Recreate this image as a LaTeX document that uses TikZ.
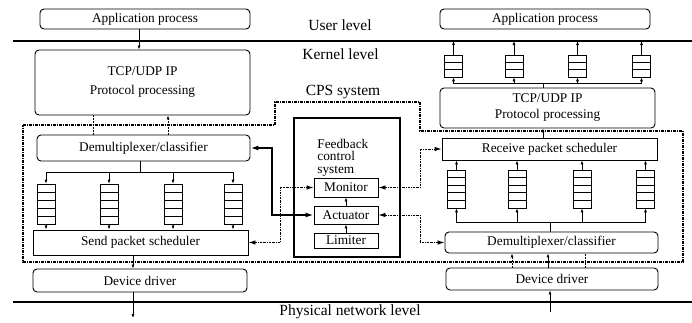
\documentclass[tikz,border=0pt]{standalone}
\usepackage{fontspec}
\setmainfont{Liberation Serif}
\usepackage{tikz}
\usetikzlibrary{arrows.meta,calc}
\tikzstyle{rbox}=[rectangle, draw, rounded corners=4pt, inner sep=0pt, line width=0.9pt]
\tikzstyle{sbox}=[rectangle, draw, inner sep=0pt, line width=0.9pt]
\tikzstyle{fbox}=[rectangle, draw, line width=2pt]
\tikzstyle{level}=[font=\fontsize{15.5}{18}\selectfont]
\tikzstyle{dline}=[dash pattern=on 2pt off 1pt, line width=0.7pt]
\tikzstyle{ctrl}=[dash pattern=on 2pt off 1pt on 0.6pt off 1pt, line width=0.9pt, >={Latex[length=7pt,width=4.5pt]}]
\tikzstyle{link}=[line width=1.5pt, >={Latex[length=8pt,width=5pt]}]
\tikzstyle{cps}=[dash pattern=on 3pt off 1pt on 1pt off 1pt, line width=1.2pt]
\tikzset{queue/.style={rectangle, draw, line width=0.7pt, minimum width=18pt, inner sep=0pt,
    path picture={\foreach \k [evaluate=\k as \fr using \k/(#1+1)] in {1,...,#1}
        \draw[line width=0.7pt] ($(path picture bounding box.north west)!\fr!(path picture bounding box.south west)$)
            -- ($(path picture bounding box.north east)!\fr!(path picture bounding box.south east)$);}}}

\begin{document}
\begin{tikzpicture}[x=1pt, y=-1pt, line width=0.7pt, >={Latex[length=4pt,width=3pt]},
        font=\fontsize{13.3}{15}\selectfont]
                \useasboundingbox (0,0) rectangle (692,322);
                % level lines
                \coordinate (uW) at (13,41);
                \coordinate (uE) at (692,41);
                \coordinate (pW) at (13,302);
                \coordinate (pE) at (692,302);
                \draw[line width=1.2pt] (uW) -- (uE);
                \draw[line width=1.2pt] (pW) -- (pE);
                \node[level] (ul) at (340,25) {User level};
                \node[level] (kl) at (340.5,54) {Kernel level};
                \node[level] (cl) at (343,92) {CPS system};
                \node[level] (pl) at (350,312) {Physical network level};
                % CPS boundary
                \draw[cps] (23,125) -- (275,125) -- (275,102) -- (420,102) -- (420,131)
                    -- (683,131) -- (683,262) -- (23,262) -- cycle;
                % send side
                \node[rbox, minimum width=210pt, minimum height=20pt] (appL) at (145,19) {Application process};
                \node[rbox, minimum width=215pt, minimum height=65pt, align=center] (tcpL) at (142.5,82.5) {TCP/UDP IP\\[4pt]Protocol processing};
                \node[rbox, minimum width=213pt, minimum height=26pt] (demuxL) at (143.5,148) {Demultiplexer/classifier};
                \node[queue=4, minimum height=40pt] (qL1) at (46,204) {};
                \node[queue=4, minimum height=40pt] (qL2) at (109,204) {};
                \node[queue=4, minimum height=40pt] (qL3) at (173,204) {};
                \node[queue=4, minimum height=40pt] (qL4) at (233,204) {};
                \node[sbox, minimum width=215pt, minimum height=25pt] (sendL) at (140.5,242.5) {Send packet scheduler};
                \node[rbox, minimum width=214pt, minimum height=23pt] (devL) at (140,280.5) {Device driver};
                \coordinate (busL) at (140,172);
                \coordinate (outL) at (133,318);
                \draw[->] (appL.south -| 139,0) -- (tcpL.north -| 139,0);
                \draw[dline] (tcpL.south -| 93,0) -- (demuxL.north -| 93,0);
                \draw[dline, ->] (demuxL.north -| 168,0) -- (tcpL.south -| 168,0);
                \draw[->] (demuxL.south -| busL) -- (busL) -| (qL1.north);
                \draw[->] (busL) -| (qL4.north);
                \draw[->] (qL2.north |- busL) -- (qL2.north);
                \draw[->] (qL3.north |- busL) -- (qL3.north);
                \draw[->] (qL1.south) -- (qL1.south |- sendL.north);
                \draw[->] (qL2.south) -- (qL2.south |- sendL.north);
                \draw[->] (qL3.south) -- (qL3.south |- sendL.north);
                \draw[->] (qL4.south) -- (qL4.south |- sendL.north);
                \draw[->] (sendL.south -| outL) -- (devL.north -| outL);
                \draw[->] (devL.south -| outL) -- (outL);
                % feedback control system
                \node[fbox, minimum width=106pt, minimum height=139pt] (fcs) at (347,187.5) {};
                \node[anchor=north west, align=left, inner sep=0pt, font=\fontsize{13.3}{12.3}\selectfont] (fcsl) at (317,139) {Feedback\\control\\system};
                \node[sbox, minimum width=64pt, minimum height=19pt] (mon) at (346,187.5) {Monitor};
                \node[sbox, minimum width=64pt, minimum height=18pt] (act) at (346,215) {Actuator};
                \node[sbox, minimum width=64pt, minimum height=15pt] (lim) at (346,240.5) {Limiter};
                \draw[->] (act.north) -- (mon.south);
                \draw[->] (lim.north) -- (act.south);
                % receive side
                \node[rbox, minimum width=210pt, minimum height=20pt] (appR) at (545,19) {Application process};
                \node[queue=2, minimum height=22pt] (qT1) at (453.5,66) {};
                \node[queue=2, minimum height=22pt] (qT2) at (514,66) {};
                \node[queue=2, minimum height=22pt] (qT3) at (577.5,66) {};
                \node[queue=2, minimum height=22pt] (qT4) at (641.5,66) {};
                \node[rbox, minimum width=215pt, minimum height=40pt, align=center] (tcpR) at (547.5,108) {TCP/UDP IP\\[1pt]Protocol processing};
                \node[sbox, minimum width=215pt, minimum height=22pt] (recvR) at (549.5,149) {Receive packet scheduler};
                \node[queue=4, minimum height=38pt] (qB1) at (456.5,189) {};
                \node[queue=4, minimum height=38pt] (qB2) at (517,189) {};
                \node[queue=4, minimum height=38pt] (qB3) at (582,189) {};
                \node[queue=4, minimum height=38pt] (qB4) at (645.5,189) {};
                \node[rbox, minimum width=213pt, minimum height=21pt] (demuxR) at (551.5,242.5) {Demultiplexer/classifier};
                \node[rbox, minimum width=212pt, minimum height=22pt] (devR) at (552,279) {Device driver};
                \coordinate (busT) at (543,83);
                \coordinate (busB) at (550,222);
                \coordinate (inR) at (550,312);
                \draw[->] (qT1.north) -- (qT1.north |- uE);
                \draw[->] (qT2.north) -- (qT2.north |- uE);
                \draw[->] (qT3.north) -- (qT3.north |- uE);
                \draw[->] (qT4.north) -- (qT4.north |- uE);
                \draw[->] (tcpR.north -| busT) -- (busT) -| (qT1.south);
                \draw[->] (busT) -| (qT4.south);
                \draw[->] (qT2.south |- busT) -- (qT2.south);
                \draw[->] (qT3.south |- busT) -- (qT3.south);
                \draw[->] (recvR.north -| busT) -- (tcpR.south -| busT);
                \draw[->] (qB1.north) -- (qB1.north |- recvR.south);
                \draw[->] (qB2.north) -- (qB2.north |- recvR.south);
                \draw[->] (qB3.north) -- (qB3.north |- recvR.south);
                \draw[->] (qB4.north) -- (qB4.north |- recvR.south);
                \draw[->] (demuxR.north -| busB) -- (busB) -| (qB1.south);
                \draw[->] (busB) -| (qB4.south);
                \draw[->] (qB2.south |- busB) -- (qB2.south);
                \draw[->] (qB3.south |- busB) -- (qB3.south);
                \draw[dline, ->] (devR.north -| 512,0) -- (demuxR.south -| 512,0);
                \draw[->] (devR.north -| 548,0) -- (demuxR.south -| 548,0);
                \draw[dline] (devR.north -| 585,0) -- (demuxR.south -| 585,0);
                \draw[->] (inR) -- (devR.south -| inR);
                % control connectors
                \draw[link, <->] (demuxL.east) -- (demuxL.east -| 272,0) |- (act.west);
                \draw[ctrl, <->] (sendL.east) -- (sendL.east -| 280,0) |- (mon.west);
                \draw[ctrl, <->] (mon.east) -- (mon.east -| 420,0) |- (recvR.west);
                \draw[ctrl, <->] (act.east) -- (act.east -| 420,0) |- (demuxR.west);
            \end{tikzpicture}
\end{document}
